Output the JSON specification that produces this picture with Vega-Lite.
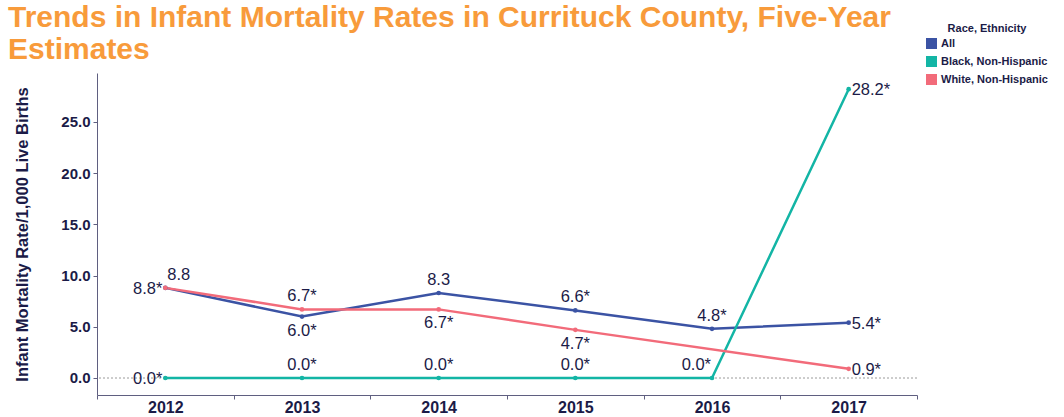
{
  "$schema": "https://vega.github.io/schema/vega-lite/v6.json",
  "width": 820,
  "height": 322,
  "autosize": "none",
  "padding": {"left": 97, "top": 73, "right": 147, "bottom": 22},
  "background": "white",
  "config": {"view": {"stroke": null}, "font": "Liberation Sans"},
  "title": {
    "text": ["Trends in Infant Mortality Rates in Currituck County, Five-Year", "Estimates"],
    "anchor": "start",
    "frame": "group",
    "dx": -89,
    "dy": 52,
    "offset": 10,
    "fontSize": 30,
    "lineHeight": 32,
    "font": "Liberation Sans",
    "fontWeight": "bold",
    "color": "#F89B3B"
  },
  "data": {
    "values": [
      {"year": 2012, "group": "All", "rate": 8.8, "label": "8.8"},
      {"year": 2013, "group": "All", "rate": 6.0, "label": "6.0*"},
      {"year": 2014, "group": "All", "rate": 8.3, "label": "8.3"},
      {"year": 2015, "group": "All", "rate": 6.6, "label": "6.6*"},
      {"year": 2016, "group": "All", "rate": 4.8, "label": "4.8*"},
      {"year": 2017, "group": "All", "rate": 5.4, "label": "5.4*"},
      {"year": 2012, "group": "Black, Non-Hispanic", "rate": 0.0, "label": "0.0*"},
      {"year": 2013, "group": "Black, Non-Hispanic", "rate": 0.0, "label": "0.0*"},
      {"year": 2014, "group": "Black, Non-Hispanic", "rate": 0.0, "label": "0.0*"},
      {"year": 2015, "group": "Black, Non-Hispanic", "rate": 0.0, "label": "0.0*"},
      {"year": 2016, "group": "Black, Non-Hispanic", "rate": 0.0, "label": "0.0*"},
      {"year": 2017, "group": "Black, Non-Hispanic", "rate": 28.2, "label": "28.2*"},
      {"year": 2012, "group": "White, Non-Hispanic", "rate": 8.8, "label": "8.8*"},
      {"year": 2013, "group": "White, Non-Hispanic", "rate": 6.7, "label": "6.7*"},
      {"year": 2014, "group": "White, Non-Hispanic", "rate": 6.7, "label": "6.7*"},
      {"year": 2015, "group": "White, Non-Hispanic", "rate": 4.7, "label": "4.7*"},
      {"year": 2017, "group": "White, Non-Hispanic", "rate": 0.9, "label": "0.9*"}
    ]
  },
  "encoding": {
    "x": {
      "field": "year",
      "type": "ordinal",
      "bandPosition": 0.5,
      "scale": {"type": "band", "paddingInner": 0, "paddingOuter": 0},
      "axis": {
        "title": null,
        "labelAngle": 0,
        "tickBand": "extent",
        "domainColor": "#5f5f80",
        "tickColor": "#5f5f80",
        "tickSize": 4,
        "labelFontSize": 16,
        "labelFontWeight": "bold",
        "labelColor": "#1b1b47",
        "labelPadding": 0
      }
    },
    "y": {
      "field": "rate",
      "type": "quantitative",
      "scale": {"domain": [-1.66, 29.78], "nice": false, "zero": false},
      "axis": {
        "title": "Infant Mortality Rate/1,000 Live Births",
        "titleFontSize": 16.5,
        "titleFontWeight": "bold",
        "titleColor": "#1b1b47",
        "titlePadding": 30,
        "values": [0, 5, 10, 15, 20, 25],
        "format": ".1f",
        "grid": false,
        "domainColor": "#5f5f80",
        "tickColor": "#5f5f80",
        "tickSize": 4,
        "labelPadding": 3,
        "labelFontSize": 15,
        "labelFontWeight": "bold",
        "labelColor": "#1b1b47"
      }
    }
  },
  "layer": [
    {
      "mark": {"type": "rule", "color": "#cccccc", "strokeDash": [2, 2], "strokeWidth": 1},
      "encoding": {"y": {"datum": 0}, "x": null}
    },
    {
      "mark": {"type": "line", "strokeWidth": 2.5},
      "encoding": {
        "color": {
          "field": "group",
          "type": "nominal",
          "scale": {"domain": ["All", "Black, Non-Hispanic", "White, Non-Hispanic"], "range": ["#3B53A4", "#13B5A5", "#F26B7A"]},
          "legend": {
            "title": "Race, Ethnicity",
            "orient": "none",
            "legendX": 829,
            "legendY": -50,
            "titleAnchor": "middle",
            "titleFontSize": 11,
            "titleFontWeight": "bold",
            "titleColor": "#1b1b47",
            "titlePadding": 4,
            "labelFontSize": 11,
            "labelFontWeight": "bold",
            "labelColor": "#1b1b47",
            "symbolType": "square",
            "symbolSize": 121,
            "symbolStrokeWidth": 0,
            "rowPadding": 6,
            "labelOffset": 4
          }
        }
      }
    },
    {
      "mark": {"type": "point", "filled": true, "size": 22, "opacity": 1},
      "encoding": {"color": {"field": "group", "type": "nominal", "legend": null}}
    },
    {
      "transform": [{"filter": "(datum.group == 'All' && (datum.year == 2014 || datum.year == 2015 || datum.year == 2016)) || (datum.group == 'White, Non-Hispanic' && datum.year == 2013) || (datum.group == 'Black, Non-Hispanic' && datum.year >= 2013 && datum.year <= 2015)"}],
      "mark": {"type": "text", "fontSize": 16.5, "color": "#1b1b47", "align": "center", "baseline": "alphabetic", "dy": -8},
      "encoding": {"text": {"field": "label"}}
    },
    {
      "transform": [{"filter": "(datum.group == 'All' && datum.year == 2013) || (datum.group == 'White, Non-Hispanic' && (datum.year == 2014 || datum.year == 2015))"}],
      "mark": {"type": "text", "fontSize": 16.5, "color": "#1b1b47", "align": "center", "baseline": "alphabetic", "dy": 19},
      "encoding": {"text": {"field": "label"}}
    },
    {
      "transform": [{"filter": "datum.year == 2017"}],
      "mark": {"type": "text", "fontSize": 16.5, "color": "#1b1b47", "align": "left", "baseline": "middle", "dx": 3, "dy": 1},
      "encoding": {"text": {"field": "label"}}
    },
    {
      "transform": [{"filter": "datum.year == 2012 && datum.group != 'All'"}],
      "mark": {"type": "text", "fontSize": 16.5, "color": "#1b1b47", "align": "right", "baseline": "middle", "dx": -3, "dy": 1},
      "encoding": {"text": {"field": "label"}}
    },
    {
      "transform": [{"filter": "datum.year == 2012 && datum.group == 'All'"}],
      "mark": {"type": "text", "fontSize": 16.5, "color": "#1b1b47", "align": "left", "baseline": "alphabetic", "dx": 2, "dy": -8},
      "encoding": {"text": {"field": "label"}}
    },
    {
      "transform": [{"filter": "datum.year == 2016 && datum.group == 'Black, Non-Hispanic'"}],
      "mark": {"type": "text", "fontSize": 16.5, "color": "#1b1b47", "align": "right", "baseline": "alphabetic", "dx": -1, "dy": -8},
      "encoding": {"text": {"field": "label"}}
    }
  ]
}
